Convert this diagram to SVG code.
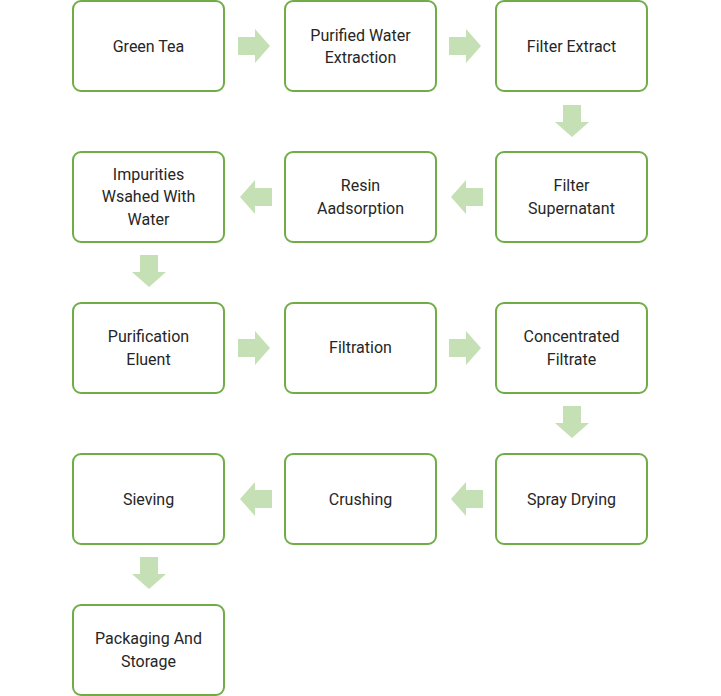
<svg xmlns="http://www.w3.org/2000/svg" width="721" height="696" viewBox="0 0 721 696">
<style>
.b{fill:#fff;stroke:#70ad47;stroke-width:2}
.t{font-family:Roboto,"Liberation Sans",sans-serif;font-size:16px;fill:#262626;text-anchor:middle}
.a{fill:#c5e0b4}
</style>
<defs>
<polygon id="r" points="0,-9 17,-9 17,-17 32,0 17,17 17,9 0,9"/>
</defs>
<rect width="721" height="696" fill="#fff"/>
<g id="connectors" class="a">
<use href="#r" transform="translate(238,46)"/>
<use href="#r" transform="translate(449,46)"/>
<use href="#r" transform="translate(572,105) rotate(90)"/>
<use href="#r" transform="translate(483,197) rotate(180)"/>
<use href="#r" transform="translate(272,197) rotate(180)"/>
<use href="#r" transform="translate(149,255) rotate(90)"/>
<use href="#r" transform="translate(238,348)"/>
<use href="#r" transform="translate(449,348)"/>
<use href="#r" transform="translate(572,406) rotate(90)"/>
<use href="#r" transform="translate(483,499) rotate(180)"/>
<use href="#r" transform="translate(272,499) rotate(180)"/>
<use href="#r" transform="translate(149,557) rotate(90)"/>
</g>
<g id="n1"><rect class="b" x="73" y="1" width="151" height="90" rx="8"/><text class="t" x="148.5" y="52">Green Tea</text></g>
<g id="n2"><rect class="b" x="285" y="1" width="151" height="90" rx="8"/><text class="t" x="360.5" y="41">Purified Water</text><text class="t" x="360.5" y="63">Extraction</text></g>
<g id="n3"><rect class="b" x="496" y="1" width="151" height="90" rx="8"/><text class="t" x="571.5" y="52">Filter Extract</text></g>
<g id="n4"><rect class="b" x="496" y="152" width="151" height="90" rx="8"/><text class="t" x="571.5" y="191">Filter</text><text class="t" x="571.5" y="214">Supernatant</text></g>
<g id="n5"><rect class="b" x="285" y="152" width="151" height="90" rx="8"/><text class="t" x="360.5" y="191">Resin</text><text class="t" x="360.5" y="214">Aadsorption</text></g>
<g id="n6"><rect class="b" x="73" y="152" width="151" height="90" rx="8"/><text class="t" x="148.5" y="180">Impurities</text><text class="t" x="148.5" y="202">Wsahed With</text><text class="t" x="148.5" y="225">Water</text></g>
<g id="n7"><rect class="b" x="73" y="303" width="151" height="90" rx="8"/><text class="t" x="148.5" y="342">Purification</text><text class="t" x="148.5" y="365">Eluent</text></g>
<g id="n8"><rect class="b" x="285" y="303" width="151" height="90" rx="8"/><text class="t" x="360.5" y="353">Filtration</text></g>
<g id="n9"><rect class="b" x="496" y="303" width="151" height="90" rx="8"/><text class="t" x="571.5" y="342">Concentrated</text><text class="t" x="571.5" y="365">Filtrate</text></g>
<g id="n10"><rect class="b" x="496" y="454" width="151" height="90" rx="8"/><text class="t" x="571.5" y="505">Spray Drying</text></g>
<g id="n11"><rect class="b" x="285" y="454" width="151" height="90" rx="8"/><text class="t" x="360.5" y="505">Crushing</text></g>
<g id="n12"><rect class="b" x="73" y="454" width="151" height="90" rx="8"/><text class="t" x="148.5" y="505">Sieving</text></g>
<g id="n13"><rect class="b" x="73" y="605" width="151" height="90" rx="8"/><text class="t" x="148.5" y="644">Packaging And</text><text class="t" x="148.5" y="667">Storage</text></g>
</svg>
